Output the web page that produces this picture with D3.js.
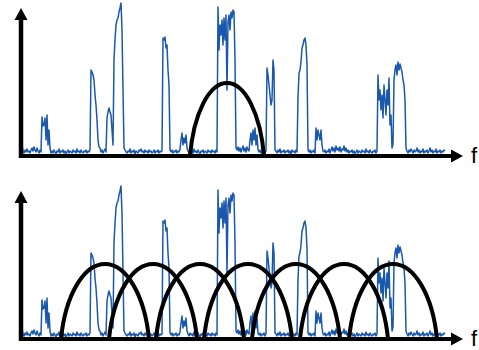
<!DOCTYPE html>
<html>
<head>
<meta charset="utf-8">
<script src="https://cdn.jsdelivr.net/npm/d3@7"></script>
<style>
  body { margin: 0; background: #fff; }
  svg { display: block; }
</style>
</head>
<body>
<div id="chart"></div>
<script>
/**
 * Spectrum data: segments of [start frequency, levels...] (one level per unit)
 */
var spectrumSegments = [
  [1,   [11,5,3,6,4,7,4,5,3,6,8,5,9,6,4,8,5,3,6,4]],
  [21,  [39,30,31,38,16,41,11,26,8,3]],
  [31,  [5,3,6,4,2,5,4,7,3,5,4,6,3,5,2,4,6,3,5,4,3,6,4,5,3,7,4,5,3,6,4,3,5,4,6,3,5,4,6]],
  [70,  [86,84,81,76,61,51,36,16,9,8]],
  [80,  [4,6,3,5,7,4]],
  [86,  [38,44,48,44,41,26,11,96,116,131,136,138,144,148,153,126,66,8]],
  [104, [6,4,3,5,4,7,3,5,4,6,2,5,4,3,6,5,7,4,5,3,6,4,5,3,6,4,5,3,4,6,3,5,4,6,3,5,4,5]],
  [142, [118,116,119,108,111,86,71,6]],
  [150, [4,6,3,5,4,6,3,5,4,7]],
  [160, [16,23,11,18,13,21,8]],
  [167, [5,3,6,4,5,3,7,4,5,3,6,4,2,5,4,6,3,5,4,3,6,4,5,3,6,4,5,3,6,4]],
  [197, [149,106,131,121,136,111,138,116,141,66,134,141,126,144,138,146,144,96,8]],
  [216, [6,9,5,8,4,7,10,5,8,4,9,6,5]],
  [229, [16,23,11,26,16,28,11,21,6]],
  [238, [4,6,3,5,4,6,3,5]],
  [246, [88,81,71,61,51,56,96,86,6]],
  [255, [5,3,6,4,7,3,5,4,6,3,5,4,6,3,5,2,6,4,5,3,6,4]],
  [277, [59,83,86,94,108,111,116,118,111,91,6]],
  [288, [4,6,3,5,4,6,3]],
  [295, [28,16,26,21,16,26,11,5]],
  [303, [4,6,3,5,4,7,3,6,9,5,8,4,10,6,8,5,9,4,7,6,10,5,8,4,6,3,5,4,6,3,5,2,4,6,3,5,4,3,6,4,5,3,7,4,5,3,6,4,3,5,4,6,3,5]],
  [357, [81,56,66,46,61,38,71,56,41,66,51,78,31,41,8,12,76,86,91,81,94,86,92,88,84,76,71,56,8]],
  [386, [5,3,6,4,7,5,3,6,4,5,8,4,6,3,5,4,7,3,5,4,6,3,5,8,4,6,3,5,4,7,3,5,4,6,3,5,4,6,5]]
];

/**
 * Filter shapes: centre frequency, half bandwidth, peak level
 */
var singleCenters = [206];
var singleHalfWidth = 37;
var singleHeight = 73;

var bankCenters = [84, 132, 179, 227, 275, 323, 372];
var bankHalfWidth = 44;
var bankHeight = 75;

var axisLabel = "f";

/**
 * Default Properties
 */
var width = 479;
var height = 350;
var panelOffset = 183;
var spectrumColor = "#1a58ad";
var arcDrop = 0.25; // ellipse centre sits below the baseline by this share of the height

var xScale = d3.scaleLinear().domain([0, 442]).range([21, 463]);
var yScale = d3.scaleLinear().domain([0, 155]).range([156, 1]);

// Flatten segments into points
var spectrum = [];
spectrumSegments.forEach(function(seg) {
  seg[1].forEach(function(v, i) {
    spectrum.push({ f: seg[0] + i, level: v });
  });
});

var line = d3.line()
  .x(function(d) { return xScale(d.f); })
  .y(function(d) { return yScale(d.level); });

var svg = d3.select("#chart").append("svg")
  .attr("width", width)
  .attr("height", height);

// Arc path for one filter (cut-off ellipse)
function filterPath(c, hw, h) {
  var x0 = xScale(c - hw), x1 = xScale(c + hw);
  var half = (x1 - x0) / 2;
  var hp = yScale(0) - yScale(h);
  var b = hp * (1 + arcDrop);
  var k = hp * arcDrop;
  var a = half / Math.sqrt(1 - (k / b) * (k / b));
  return "M" + x0 + "," + yScale(0) + " A" + a + "," + b + " 0 0 1 " + x1 + "," + yScale(0);
}

function drawPanel(g, centers, hw, h) {
  // Spectrum trace
  g.append("path")
    .datum(spectrum)
    .attr("d", line)
    .attr("fill", "none")
    .attr("stroke", spectrumColor)
    .attr("stroke-width", 1.5)
    .attr("stroke-linejoin", "round");

  // Filter arcs
  g.selectAll(".filter")
    .data(centers)
    .enter()
    .append("path")
    .classed("filter", true)
    .attr("d", function(c) { return filterPath(c, hw, h); })
    .attr("fill", "none")
    .attr("stroke", "#000")
    .attr("stroke-width", 4);

  // Axes with arrows
  var x0 = xScale(0), y0 = yScale(0);
  var xEnd = xScale(442), yEnd = yScale(148);

  g.append("line")
    .attr("x1", x0 - 2).attr("y1", y0)
    .attr("x2", xEnd - 10).attr("y2", y0)
    .attr("stroke", "#000").attr("stroke-width", 4);

  g.append("line")
    .attr("x1", x0).attr("y1", y0 + 2)
    .attr("x2", x0).attr("y2", yEnd + 10)
    .attr("stroke", "#000").attr("stroke-width", 4.5);

  g.append("path")
    .attr("d", "M" + xEnd + "," + y0 + " L" + (xEnd - 12) + "," + (y0 - 6.5) + " L" + (xEnd - 12) + "," + (y0 + 6.5) + "Z")
    .attr("fill", "#000");

  g.append("path")
    .attr("d", "M" + x0 + "," + yEnd + " L" + (x0 - 6.5) + "," + (yEnd + 12) + " L" + (x0 + 6.5) + "," + (yEnd + 12) + "Z")
    .attr("fill", "#000");

  g.append("text")
    .attr("x", xEnd + 8)
    .attr("y", y0 + 7)
    .attr("font-family", "Liberation Sans, Arial, sans-serif")
    .attr("font-size", 22)
    .attr("fill", "#000")
    .text(axisLabel);
}

drawPanel(svg.append("g"), singleCenters, singleHalfWidth, singleHeight);
drawPanel(svg.append("g").attr("transform", "translate(0," + panelOffset + ")"), bankCenters, bankHalfWidth, bankHeight);
</script>
</body>
</html>
